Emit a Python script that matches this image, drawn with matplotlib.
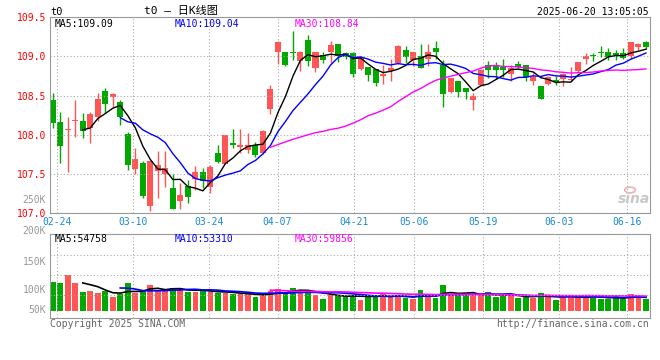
import numpy as np
import pandas as pd
import matplotlib
matplotlib.use('Agg')
import matplotlib.pyplot as plt
import matplotlib.transforms as mtransforms

plt.rcParams['font.family'] = ['DejaVu Sans Mono', 'Noto Sans CJK SC']

# 日K数据 (t0, 2025-02-24 ~ 2025-06-20)
opens = [108.44, 108.16, 108.06, 108.17, 108.18, 108.09, 108.23, 108.56, 108.48, 108.42,
         108.01, 107.56, 107.64, 107.09, 107.54, 107.50, 107.32, 107.16, 107.35, 107.44,
         107.53, 107.34, 107.77, 107.63, 107.90, 107.84, 107.81, 107.87, 107.77, 108.33,
         109.06, 109.05, 109.06, 108.94, 109.21, 108.85, 109.01, 109.06, 109.16, 109.04,
         109.04, 108.84, 108.86, 108.84, 108.75, 108.81, 108.91, 109.08, 108.95, 109.00,
         108.97, 109.10, 108.89, 108.54, 108.68, 108.59, 108.44, 108.63, 108.89, 108.89,
         108.86, 108.78, 108.90, 108.89, 108.69, 108.62, 108.65, 108.70, 108.71, 108.70,
         108.81, 108.96, 109.01, 109.05, 109.05, 109.04, 109.04, 109.00, 109.12, 109.18]
highs = [108.53, 108.29, 108.23, 108.44, 108.28, 108.29, 108.53, 108.60, 108.53, 108.44,
         108.04, 107.83, 107.67, 107.68, 107.79, 107.79, 107.50, 107.38, 107.42, 107.60,
         107.58, 107.62, 107.87, 108.00, 108.07, 108.07, 108.02, 107.91, 108.06, 108.64,
         109.19, 109.05, 109.32, 109.07, 109.27, 109.05, 109.05, 109.19, 109.16, 109.06,
         109.05, 108.99, 108.86, 108.84, 108.89, 108.97, 109.14, 109.13, 109.06, 109.15,
         109.15, 109.20, 108.95, 108.72, 108.68, 108.59, 108.53, 108.84, 108.94, 108.93,
         108.96, 108.89, 108.94, 108.89, 108.79, 108.62, 108.75, 108.75, 108.79, 108.86,
         108.93, 109.04, 109.04, 109.13, 109.10, 109.08, 109.10, 109.18, 109.17, 109.19]
lows = [108.09, 107.64, 107.53, 107.97, 107.96, 107.89, 108.17, 108.28, 108.35, 108.12,
        107.55, 107.50, 107.19, 107.03, 107.19, 107.33, 107.05, 107.05, 107.13, 107.30,
        107.32, 107.26, 107.64, 107.63, 107.83, 107.77, 107.77, 107.72, 107.76, 108.27,
        108.90, 108.88, 108.95, 108.81, 108.88, 108.80, 108.92, 108.92, 108.93, 108.97,
        108.73, 108.83, 108.68, 108.62, 108.65, 108.69, 108.90, 108.92, 108.88, 108.85,
        108.87, 108.97, 108.36, 108.53, 108.48, 108.45, 108.31, 108.63, 108.72, 108.71,
        108.73, 108.69, 108.85, 108.69, 108.63, 108.45, 108.63, 108.64, 108.62, 108.68,
        108.80, 108.90, 108.94, 108.99, 108.95, 108.95, 108.97, 108.96, 109.08, 109.09]
closes = [108.15, 107.86, 108.07, 108.18, 108.05, 108.27, 108.46, 108.39, 108.52, 108.23,
          107.62, 107.69, 107.22, 107.67, 107.62, 107.58, 107.06, 107.23, 107.21, 107.52,
          107.41, 107.59, 107.65, 108.00, 107.87, 107.87, 107.87, 107.74, 108.05, 108.58,
          109.18, 108.89, 109.04, 109.05, 108.94, 109.05, 108.95, 109.14, 109.00, 108.99,
          108.77, 108.99, 108.76, 108.66, 108.78, 108.85, 109.13, 108.99, 109.05, 108.85,
          109.06, 109.05, 108.52, 108.72, 108.54, 108.54, 108.49, 108.83, 108.83, 108.82,
          108.82, 108.85, 108.86, 108.74, 108.73, 108.46, 108.73, 108.67, 108.78, 108.71,
          108.93, 109.00, 109.00, 109.04, 108.99, 109.02, 108.98, 109.18, 109.15, 109.12]
volumes = [114, 110, 143, 110, 75, 79, 71, 79, 55, 68,
           110, 72, 83, 102, 79, 83, 90, 86, 75, 75,
           83, 75, 71, 71, 67, 67, 67, 55, 63, 79,
           86, 71, 90, 83, 75, 63, 47, 63, 60, 59,
           64, 45, 59, 59, 67, 55, 55, 52, 48, 83,
           58, 52, 102, 67, 67, 63, 62, 62, 75, 54,
           62, 62, 52, 55, 52, 71, 59, 43, 51, 63,
           55, 59, 51, 48, 48, 59, 48, 67, 51, 48]  # 单位: 千

tick_idx = [0, 10, 20, 29, 39, 47, 56, 66, 75]
tick_lbl = ['02-24', '03-10', '03-24', '04-07', '04-21', '05-06', '05-19', '06-03', '06-16']
price_ticks = [109.5, 109.0, 108.5, 108.0, 107.5, 107.0]
vol_lbl = ['200K', '150K', '100K', '50K']
price_ma_txt = ['MA5:109.09', 'MA10:109.04', 'MA30:108.84']
vol_ma_txt = ['MA5:54758', 'MA10:53310', 'MA30:59856']

RED = '#ff5555'
GREEN = '#00a800'
MA_COLORS = ['black', '#0000ff', '#ff00ff']
GRID = '#aaaaaa'
BORDER = '#999999'

W, H = 660, 360


def box(l, t, r, b):
    return [l / W, 1 - b / H, (r - l) / W, (b - t) / H]


def fx(px):
    return px / W


def fy(py):
    return 1 - py / H


o = np.array(opens)
hi = np.array(highs)
lo = np.array(lows)
c = np.array(closes)
v = np.array(volumes) * 1000.0
x = np.arange(len(c))
up = c >= o
colors = np.where(up, RED, GREEN)

fig = plt.figure(figsize=(6.6, 3.6), dpi=100)
ax = fig.add_axes(box(50.3, 17, 650, 213.3))
axv = fig.add_axes(box(50.3, 234.3, 650, 317.7))

xlim = (-0.32, 79.55)
grid_x = np.array(tick_idx) * 1.013 + 0.57

# K线
ax.vlines(x, lo, hi, colors=colors, lw=1)
body = np.maximum(np.abs(c - o), 0.012)
ax.bar(x, body, bottom=np.minimum(o, c), width=0.8, color=colors, lw=0)

# 均线
cs = pd.Series(c)
for n, col in zip([5, 10, 30], MA_COLORS):
    ax.plot(x, cs.rolling(n).mean(), color=col, lw=1)

ax.set_xlim(*xlim)
ax.set_ylim(107.0, 109.5)
ax.set_yticks(price_ticks)
ax.set_yticklabels([f'{p:.1f}' for p in price_ticks])
ax.set_xticks(grid_x)
ax.set_xticklabels(tick_lbl)
ax.tick_params(axis='y', length=0, pad=3, labelsize=7, labelcolor='#ff0000')
ax.tick_params(axis='x', length=0, pad=2.5, labelsize=7, labelcolor='#1a88d8')
ax.grid(True, ls=(0, (1, 2)), color=GRID, lw=0.8)
for s in ax.spines.values():
    s.set_color(BORDER)

# 成交量
axv.bar(x, v, width=0.76, color=colors, lw=0)
vs = pd.Series(v)
for n, col in zip([5, 10, 30], MA_COLORS):
    axv.plot(x, vs.rolling(n).mean(), color=col, lw=1.2)
axv.set_xlim(*xlim)
axv.set_ylim(-26300, 301400)
axv.set_xticks(grid_x)
axv.set_xticklabels([])
axv.set_yticks([])
axv.tick_params(length=0)
axv.grid(True, axis='x', ls=(0, (1, 2)), color=GRID, lw=0.8)
for gv in [62900, 141500, 220000]:
    axv.axhline(gv, ls=(0, (1, 2)), color=GRID, lw=0.8)
for s in axv.spines.values():
    s.set_color(BORDER)

# 标签文字
for txt, px, col in zip(price_ma_txt, [55, 175, 295], MA_COLORS):
    fig.text(fx(px), fy(24), txt, fontsize=7, color=col, va='center')
for txt, px, col in zip(vol_ma_txt, [55, 175, 295], MA_COLORS):
    fig.text(fx(px), fy(238.5), txt, fontsize=7, color=col, va='center')

for lbl, py in zip(vol_lbl, [231, 262, 290, 310]):
    fig.text(fx(46), fy(py), lbl, fontsize=7, color=BORDER, ha='right', va='center')
fig.text(fx(46), fy(200), '250K', fontsize=7, color=BORDER, ha='right', va='center')

fig.text(fx(50), fy(12), 't0', fontsize=7.5, va='center')
fig.text(fx(181), fy(11), 't0 – 日K线图', fontsize=8, ha='center', va='center')
fig.text(fx(649), fy(12), '2025-06-20 13:05:05', fontsize=7, ha='right', va='center')
fig.text(fx(50), fy(324), 'Copyright 2025 SINA.COM', fontsize=7, color='#666666', va='center')
fig.text(fx(649), fy(324), 'http://finance.sina.com.cn', fontsize=7, color='#666666',
         ha='right', va='center')

# 水印
fig.text(fx(634), fy(199), 'sina', fontsize=10, color='#c8c8c8', style='italic',
         fontweight='bold', ha='center', va='center', family='DejaVu Sans')
fig.patches.append(plt.Circle((fx(630), fy(190)), 0.008, transform=fig.transFigure,
                              fill=False, ec='#f0b0b0', lw=1.2))

fig.savefig('out.png', dpi=100, facecolor='white')
